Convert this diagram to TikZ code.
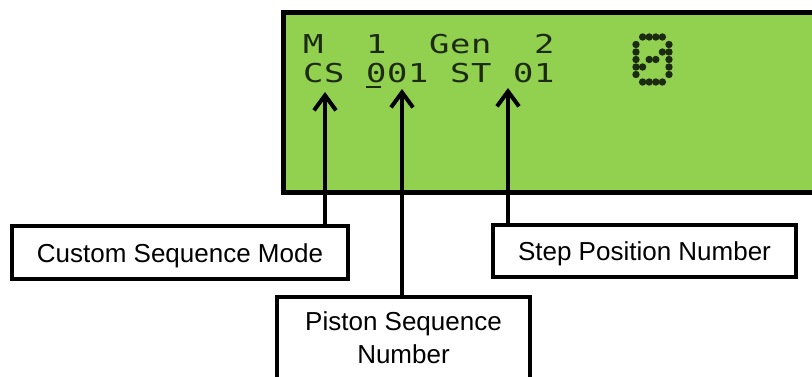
\documentclass[tikz,border=0pt]{standalone}
\usepackage{fontspec}
\setmainfont{Liberation Sans}
\newfontfamily\lcdfont{DejaVu Sans Mono}
\usetikzlibrary{arrows.meta}
\definecolor{lcdgreen}{HTML}{92D050}
\definecolor{lcdink}{HTML}{1C2A12}
\newcommand\lcdcell[1]{\makebox[21pt][c]{\scalebox{1.3}[1]{#1}}}
\begin{document}
\begin{tikzpicture}[x=1pt,y=-1pt,
  labelbox/.style={draw=black, line width=3.5pt, fill=white, inner sep=0pt,
    font=\fontsize{26}{33}\selectfont, text height=19pt, text depth=0pt},
  pointer/.style={line width=4pt, -{Straight Barb[length=15pt,width=22pt]}},
  lcdtext/.style={anchor=base west, inner sep=0pt, text=lcdink,
    font=\lcdfont\fontsize{26}{26}\selectfont},
  pixeldot/.style={fill=lcdink, draw=none}]
\useasboundingbox (0,0) rectangle (812,377);
\begin{scope}
\clip (0,0) rectangle (812,377);
% LCD panel
\node[draw=black, fill=lcdgreen, line width=5pt, minimum width=560pt,
      minimum height=180pt, anchor=north west, inner sep=0pt] (lcd) at (281,10.5) {};
\node[lcdtext] (line1) at (302.5,54) {\lcdcell{M}\lcdcell{}\lcdcell{}\lcdcell{1}\lcdcell{}\lcdcell{}\lcdcell{G}\lcdcell{e}\lcdcell{n}\lcdcell{}\lcdcell{}\lcdcell{2}};
\node[lcdtext] (line2) at (302.5,83) {\lcdcell{C}\lcdcell{S}\lcdcell{}\lcdcell{0}\lcdcell{0}\lcdcell{1}\lcdcell{}\lcdcell{S}\lcdcell{T}\lcdcell{}\lcdcell{0}\lcdcell{1}};
\draw[lcdink, line width=2pt] (366,87.5) -- (381,87.5);
% large dot-matrix character
\foreach \c/\r in {1/0,2/0,3/0,4/0, 0/1,5/1, 0/2,4/2,5/2, 0/3,2/3,3/3,5/3,
                   0/4,1/4,5/4, 0/5,5/5, 1/6,2/6,3/6,4/6}
  \fill[pixeldot] (636+6.6*\c, 37+7.5*\r) circle (3.7pt);
% pointer tips
\coordinate (tip1) at (325,92);
\coordinate (tip2) at (402,89);
\coordinate (tip3) at (508,88);
% label boxes
\node[labelbox, minimum width=336pt, minimum height=53pt] (custom) at (180,252.5) {};
\node[labelbox, minimum width=303pt, minimum height=52pt] (step) at (644.5,251) {};
\node[labelbox, minimum width=253pt, minimum height=110pt, anchor=north] (piston) at (403.5,295) {};
% pointers
\draw[pointer] (custom.north -| tip1) -- (tip1);
\draw[pointer] (piston.north -| tip2) -- (tip2);
\draw[pointer] (step.north -| tip3) -- (tip3);
% boxes drawn again on top of the pointer ends, with their texts
\node[labelbox, minimum width=336pt, minimum height=53pt] (customtext) at (180,252.5) {Custom Sequence Mode};
\node[labelbox, minimum width=303pt, minimum height=52pt] (steptext) at (644.5,251) {Step Position Number};
\node[labelbox, minimum width=253pt, minimum height=110pt, anchor=north] (pistonbox) at (403.5,295) {};
\node[font=\fontsize{26}{33}\selectfont, align=center, inner sep=0pt] (pistontext) at (403.5,338) {Piston Sequence\\Number};
\end{scope}
\end{tikzpicture}
\end{document}
